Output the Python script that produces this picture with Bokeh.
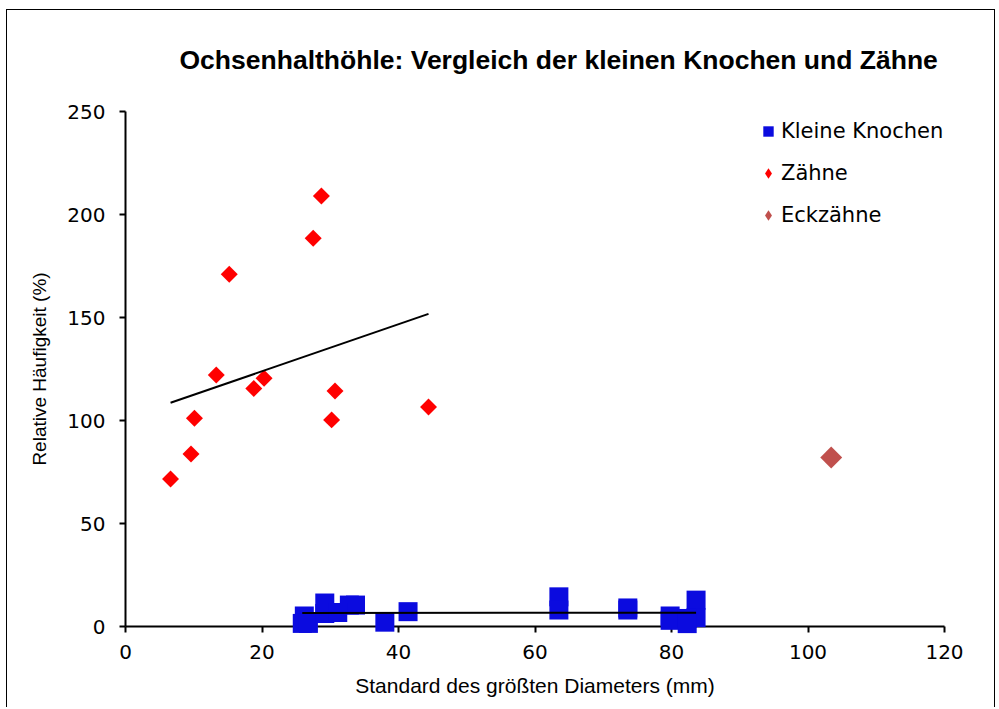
import numpy as np
from bokeh.plotting import figure
from bokeh.models import Legend, LegendItem, Range1d, FixedTicker
from bokeh.embed import file_html
from bokeh.resources import INLINE

# --- data ---
knochen_x = [26.2, 25.9, 26.8, 29.2, 29.2, 32.8, 33.7, 31.1, 38.0, 41.4,
             63.5, 63.5, 73.6, 73.6, 79.8, 79.8, 83.6, 83.6, 82.3, 82.3]
knochen_y = [5.1, 1.5, 1.5, 11.4, 6.3, 10.4, 10.4, 6.8, 2.1, 7.2,
             14.4, 8.0, 8.0, 9.0, 5.1, 3.0, 12.8, 4.3, 3.9, 1.4]

zaehne_x = [6.6, 9.6, 10.1, 13.3, 15.2, 18.8, 20.3, 27.5, 28.7, 30.2, 30.7, 44.4]
zaehne_y = [71.6, 83.7, 101.1, 122.1, 171.0, 115.5, 120.5, 188.5, 209.0, 100.3, 114.3, 106.6]

eck_x = [103.4]
eck_y = [82.0]

x_ticks = [0, 20, 40, 60, 80, 100, 120]
y_ticks = [0, 50, 100, 150, 200, 250]

title_text = "Ochsenhalthöhle: Vergleich der kleinen Knochen und Zähne"
x_title = "Standard des größten Diameters (mm)"
y_title = "Relative Häufigkeit (%)"
series_names = ["Kleine Knochen", "Zähne", "Eckzähne"]

# --- linear trendlines (least squares over each series' range) ---
def trend(xs, ys):
    xs = np.asarray(xs, float); ys = np.asarray(ys, float)
    k, d = np.polyfit(xs, ys, 1)
    xx = np.array([xs.min(), xs.max()])
    return xx, k * xx + d

kt_x, kt_y = trend(knochen_x, knochen_y)
zt_x, zt_y = trend(zaehne_x, zaehne_y)

p = figure(width=989, height=698, output_backend="svg", toolbar_location=None,
           x_range=Range1d(0, 120), y_range=Range1d(0, 250),
           min_border_left=118, min_border_right=52, min_border_top=100, min_border_bottom=82)
p.styles = {"margin-left": "6px", "margin-top": "9px",
            "border-left": "1px solid #000", "border-top": "1px solid #000",
            "border-right": "1px solid #000"}
p.outline_line_color = None
p.xgrid.visible = False
p.ygrid.visible = False
p.background_fill_color = "white"
p.border_fill_color = "white"

p.title.text = title_text
p.title.align = "left"
p.title.offset = 54
p.title.vertical_align = "top"
p.title.standoff = 69
p.title.text_font = "Liberation Sans"
p.title.text_font_style = "bold"
p.title.text_font_size = "26.5px"
p.title.text_color = "black"

for ax, ticks in ((p.xaxis[0], x_ticks), (p.yaxis[0], y_ticks)):
    ax.ticker = FixedTicker(ticks=ticks)
    ax.minor_tick_line_color = None
    ax.major_tick_in = 0
    ax.major_tick_out = 6
    ax.axis_line_color = "black"
    ax.axis_line_width = 2
    ax.major_tick_line_color = "black"
    ax.major_tick_line_width = 2
    ax.major_label_text_font = "DejaVu Sans"
    ax.major_label_text_font_size = "20px"
    ax.major_label_text_color = "black"
    ax.axis_label_text_font = "Liberation Sans"
    ax.axis_label_text_font_style = "normal"
    ax.axis_label_text_color = "black"

p.xaxis.axis_label = x_title
p.yaxis.axis_label = y_title
p.xaxis.axis_label_text_font_size = "21px"
p.yaxis.axis_label_text_font_size = "19px"
p.xaxis.major_label_standoff = 12
p.xaxis.axis_label_standoff = 12
p.yaxis.major_label_standoff = 14
p.yaxis.axis_label_standoff = 14

# points (drawn at overlay level so squares may spill past the axis, as in the original)
r_k = p.scatter(knochen_x, knochen_y, marker="square", size=19, level="overlay",
                fill_color="#0B0BDF", line_color="#0B0BDF", line_width=0)
r_z = p.scatter(zaehne_x, zaehne_y, marker="square", size=12, angle=np.pi / 4, level="overlay",
                fill_color="#FF0000", line_color="#FF0000", line_width=0)
r_e = p.scatter(eck_x, eck_y, marker="square", size=15.5, angle=np.pi / 4, level="overlay",
                fill_color="#C0504D", line_color="#C0504D", line_width=0)

# trendlines on top of the markers
p.line(kt_x, kt_y, line_color="black", line_width=2, level="overlay")
p.line(zt_x, zt_y, line_color="black", line_width=2, level="overlay")

# legend-only glyphs (diamond shape for the legend swatches)
lz = p.scatter([np.nan], [np.nan], marker="diamond", size=12,
               fill_color="#FF0000", line_color="#FF0000", line_width=0)
le = p.scatter([np.nan], [np.nan], marker="diamond", size=12,
               fill_color="#C0504D", line_color="#C0504D", line_width=0)

legend = Legend(items=[LegendItem(label=series_names[0], renderers=[r_k]),
                       LegendItem(label=series_names[1], renderers=[lz]),
                       LegendItem(label=series_names[2], renderers=[le])],
                location=(630, 396), padding=0, margin=0, spacing=12,
                glyph_width=26, glyph_height=30, label_height=30, label_standoff=0,
                border_line_color=None, background_fill_alpha=0,
                label_text_font="DejaVu Sans", label_text_font_size="21px",
                label_text_color="black")
p.add_layout(legend)

open("out.html", "w").write(file_html(p, INLINE))
